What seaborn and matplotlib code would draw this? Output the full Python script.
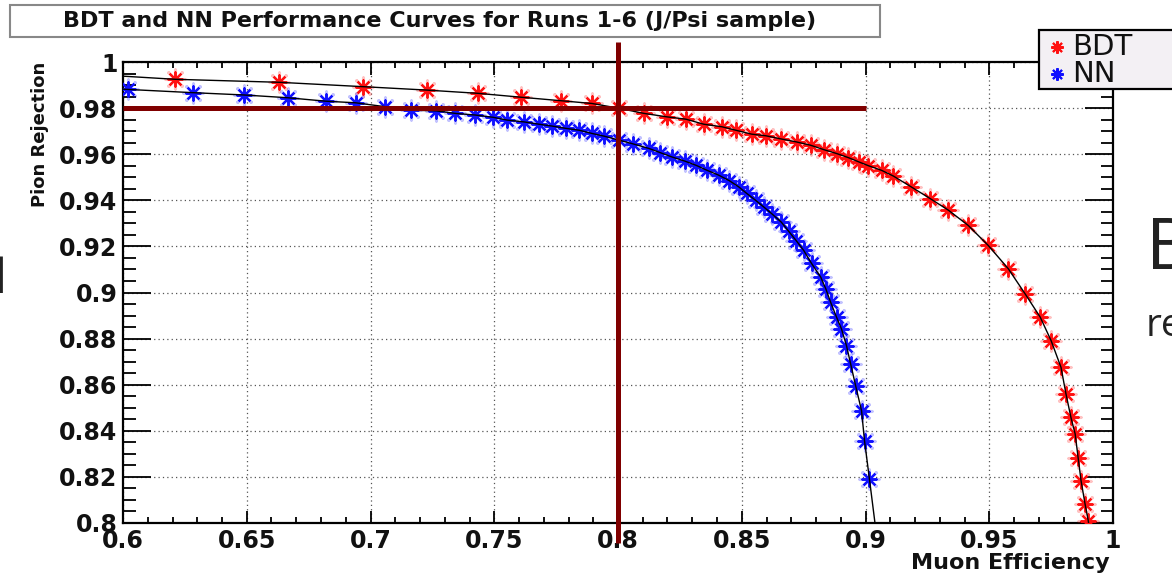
import matplotlib
matplotlib.use("Agg")
import matplotlib.pyplot as plt
import seaborn as sns
import pandas as pd
from matplotlib.ticker import MultipleLocator, FixedLocator
from matplotlib.patches import Rectangle

# ---------------- data ----------------
bdt_eff = [0.590, 0.621, 0.663, 0.697, 0.723, 0.7435, 0.761, 0.777, 0.7895, 0.8005, 0.8105,
           0.8198, 0.8274, 0.8347, 0.842, 0.8476, 0.854, 0.8597, 0.866, 0.8722, 0.8778,
           0.8831, 0.8883, 0.8931, 0.8972, 0.9012, 0.9065, 0.9113, 0.9185, 0.9262, 0.9335,
           0.9415, 0.9496, 0.9577, 0.9645, 0.9706, 0.975, 0.979, 0.981, 0.983, 0.9847,
           0.9859, 0.9871, 0.9887, 0.990, 0.9915]
bdt_rej = [0.9945, 0.9925, 0.9912, 0.9893, 0.9878, 0.9864, 0.9847, 0.9832, 0.982, 0.9799, 0.9777,
           0.9762, 0.9752, 0.973, 0.9719, 0.9704, 0.9687, 0.968, 0.9666, 0.9653, 0.9639,
           0.962, 0.9603, 0.9585, 0.9567, 0.955, 0.953, 0.9505, 0.9458, 0.9407, 0.9357,
           0.9291, 0.9204, 0.9103, 0.8994, 0.8893, 0.8791, 0.8675, 0.856, 0.8458, 0.8387,
           0.8284, 0.8183, 0.8083, 0.801, 0.790]

nn_eff = [0.590, 0.602, 0.6282, 0.6488, 0.6665, 0.6819, 0.694, 0.706, 0.7165, 0.7266, 0.7343,
          0.7423, 0.7496, 0.7552, 0.7621, 0.7681, 0.7734, 0.779, 0.7843, 0.7895, 0.7945,
          0.8004, 0.806, 0.8125, 0.817, 0.8218, 0.827, 0.8315, 0.836, 0.8407, 0.845,
          0.8488, 0.852, 0.8556, 0.859, 0.8621, 0.866, 0.869, 0.872, 0.875, 0.8782,
          0.8819, 0.884, 0.8859, 0.8883, 0.8903, 0.8923, 0.894, 0.896, 0.8984, 0.8996,
          0.9016, 0.9050]
nn_rej = [0.9887, 0.9881, 0.9867, 0.9857, 0.9845, 0.983, 0.9823, 0.9806, 0.9791, 0.9788, 0.9777,
          0.977, 0.976, 0.9748, 0.974, 0.973, 0.9722, 0.9712, 0.9704, 0.969, 0.9678,
          0.9661, 0.9645, 0.9625, 0.9607, 0.9588, 0.957, 0.9552, 0.953, 0.9509, 0.9485,
          0.9458, 0.943, 0.94, 0.937, 0.9342, 0.9305, 0.9265, 0.9225, 0.9183, 0.9126,
          0.9067, 0.9015, 0.8958, 0.8893, 0.8842, 0.877, 0.869, 0.8596, 0.8487, 0.8357,
          0.819, 0.790]

cut_eff = 0.8
cut_rej = 0.98
cut_rej_line_end = 0.9
cut_eff_line_range = [0.7913, 1.0087]

x_ticks = [0.6, 0.65, 0.7, 0.75, 0.8, 0.85, 0.9, 0.95, 1.0]
x_tick_labels = ["0.6", "0.65", "0.7", "0.75", "0.8", "0.85", "0.9", "0.95", "1"]
y_ticks = [0.8, 0.82, 0.84, 0.86, 0.88, 0.9, 0.92, 0.94, 0.96, 0.98, 1.0]
y_tick_labels = ["0.8", "0.82", "0.84", "0.86", "0.88", "0.9", "0.92", "0.94", "0.96", "0.98", "1"]

title = "BDT and NN Performance Curves for Runs 1-6 (J/Psi sample)"
x_label = "Muon Efficiency"
y_label = "Pion Rejection"
series_names = ["BDT", "NN"]
series_colors = ["#ff1010", "#1010ff"]

# ---------------- style ----------------
sns.set_theme(style="ticks")
plt.rcParams["font.family"] = ["DejaVu Sans"]

W, H = 1172, 576
fig = plt.figure(figsize=(W / 100, H / 100), dpi=100)
fig.patch.set_facecolor("white")
L, R, T, B = 123, 1113, 62, 523
ax = fig.add_axes([L / W, 1 - B / H, (R - L) / W, (B - T) / H])
ax.set_facecolor("white")

df_bdt = pd.DataFrame({"eff": bdt_eff, "rej": bdt_rej})
df_nn = pd.DataFrame({"eff": nn_eff, "rej": nn_rej})

star = (8, 2, 0)
for df, col in [(df_bdt, series_colors[0]), (df_nn, series_colors[1])]:
    # soft halo
    sns.scatterplot(data=df, x="eff", y="rej", ax=ax, marker=star, s=190,
                    color=col, alpha=0.25, linewidth=2.2, zorder=3, legend=False)
    sns.scatterplot(data=df, x="eff", y="rej", ax=ax, marker=star, s=110,
                    color=col, linewidth=1.4, zorder=4, legend=False)
    sns.lineplot(data=df, x="eff", y="rej", ax=ax, sort=False, estimator=None,
                 color="black", linewidth=1.0, zorder=5)

# cut lines
ax.plot([x_ticks[0], cut_rej_line_end], [cut_rej, cut_rej], color="#800000",
        linewidth=3.6, zorder=6, solid_capstyle="butt")
ax.plot([cut_eff, cut_eff], cut_eff_line_range, color="#800000", linewidth=3.6,
        zorder=6, clip_on=False, solid_capstyle="butt")

ax.set_xlim(0.6, 1.0)
ax.set_ylim(0.8, 1.0)
ax.xaxis.set_major_locator(FixedLocator(x_ticks))
ax.yaxis.set_major_locator(FixedLocator(y_ticks))
ax.set_xticklabels(x_tick_labels)
ax.set_yticklabels(y_tick_labels)
ax.xaxis.set_minor_locator(MultipleLocator(0.01))
ax.yaxis.set_minor_locator(MultipleLocator(0.005))
ax.set_xlabel("")
ax.set_ylabel("")

ax.grid(True, which="major", linestyle=(0, (1, 2.5)), color="#555555", linewidth=0.9, zorder=0)
ax.set_axisbelow(True)

for s in ax.spines.values():
    s.set_color("black")
    s.set_linewidth(1.6)

ax.tick_params(axis="both", which="both", direction="in", top=True, right=True,
               color="black", width=1.3)
ax.tick_params(axis="x", which="major", length=9, pad=4, labelsize=17)
ax.tick_params(axis="x", which="minor", length=4)
ax.tick_params(axis="y", which="major", length=20, pad=4, labelsize=17)
ax.tick_params(axis="y", which="minor", length=9)
for lab in ax.get_xticklabels() + ax.get_yticklabels():
    lab.set_fontweight("bold")
    lab.set_color("#111111")

# axis titles
fig.text(1110 / W, 1 - 563 / H, x_label, ha="right", va="center",
         fontsize=16, fontweight="bold", color="#111111")
fig.text(40 / W, 1 - T / H, y_label, ha="center", va="top", rotation=90,
         fontsize=13, fontweight="bold", color="#111111")

# title box
fig.patches.append(Rectangle((10 / W, 1 - 37 / H), (880 - 10) / W, (37 - 5) / H,
                             transform=fig.transFigure, facecolor="white",
                             edgecolor="#888888", linewidth=1.5, zorder=1))
fig.text(440 / W, 1 - 21 / H, title, ha="center", va="center",
         fontsize=16, fontweight="bold", color="#111111", zorder=2)

# legend box
fig.patches.append(Rectangle((1039 / W, 1 - 89 / H), (1180 - 1039) / W, (89 - 30) / H,
                             transform=fig.transFigure, facecolor="#f3f0f4",
                             edgecolor="black", linewidth=1.6, zorder=10))
for i, (name, col) in enumerate(zip(series_names, series_colors)):
    yy = 1 - (47 + 27 * i) / H
    fig.lines.append(plt.Line2D([1057 / W], [yy], marker=star, markersize=9,
                                markeredgewidth=1.5, color=col, linestyle="none",
                                transform=fig.transFigure, zorder=11))
    fig.text(1072 / W, yy, name, ha="left", va="center", fontsize=21,
             color="#111111", zorder=12)

# background slide fragments
fig.text(1146 / W, 1 - 250 / H, "B", ha="left", va="center", fontsize=52,
         family=["Open Sans", "DejaVu Sans"], color="#222222")
fig.text(1146 / W, 1 - 326 / H, "re", ha="left", va="center", fontsize=28,
         family=["Open Sans", "DejaVu Sans"], color="#222222")
fig.text(6 / W, 1 - 280 / H, "d", ha="right", va="center", fontsize=34,
         family=["Open Sans", "DejaVu Sans"], color="#222222")

fig.savefig("out.png", dpi=100)
